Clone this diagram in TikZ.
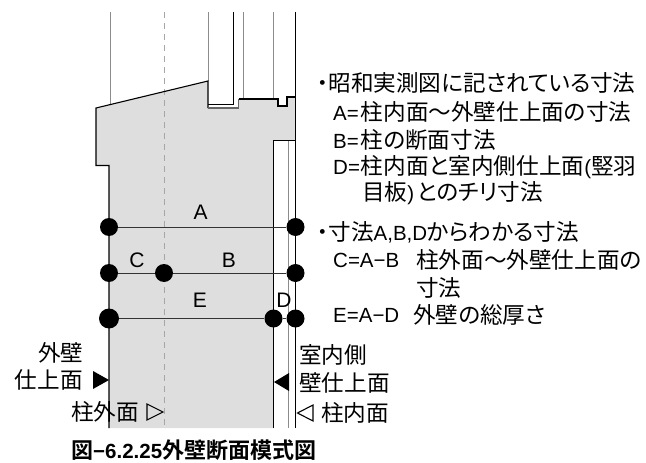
\documentclass[tikz,border=0pt]{standalone}
\usepackage{fontspec}
\setmainfont{Liberation Sans}
\newfontfamily\cjk[RawFeature=+palt,BoldFont={Noto Sans CJK JP Bold}]{Noto Sans CJK JP}
\newcommand{\J}[1]{{\cjk\fontsize{22.6}{26}\selectfont #1}}
\newcommand{\JB}[1]{{\cjk\bfseries\fontsize{22}{26}\selectfont #1}}
\begin{document}
\begin{tikzpicture}[x=1pt,y=-1pt,
  dotmark/.style={circle,fill=black,inner sep=0pt,minimum size=18pt},
  dotbig/.style={circle,fill=black,inner sep=0pt,minimum size=20pt},
  lab/.style={anchor=west,inner sep=0pt,font=\fontsize{20.5}{25}\selectfont},
  letter/.style={inner sep=0pt,font=\fontsize{21}{25}\selectfont},
  graybar/.style={draw=black!45,line width=0.9pt},
  blackbar/.style={draw=black,line width=1.1pt},
  dimline/.style={draw=black!80,line width=1pt}]
\useasboundingbox (0,0) rectangle (646,463);
\fill[black!13] (96,108) -- (208,81) -- (208,108) -- (238.5,108) -- (238.5,99) -- (278,99) -- (278,106) -- (287,106) -- (287,97) -- (295.5,97) -- (295.5,140.5) -- (273.5,140.5) -- (273.5,428) -- (109,428) -- (109,165.5) -- (96,165.5) -- cycle;
% upper vertical lines
\draw[graybar] (110.5,12) -- (110.5,104);
\draw[graybar,dashed,dash pattern=on 6pt off 5pt,black!35] (164,12) -- (164,428);
\draw[graybar] (208,12) -- (208,81);
\draw[blackbar] (233.5,12) -- (233.5,104.5) -- (208,104.5);
\draw[graybar] (243,12) -- (243,99);
\draw[graybar] (273.5,12) -- (273.5,99);
\draw[graybar] (288,141) -- (288,428);
\draw[blackbar] (295.5,12) -- (295.5,428);
% outline
\draw[blackbar,line join=miter] (109,428) -- (109,165.5) -- (96,165.5) -- (96,108) -- (208,81) -- (208,108);
\draw[draw=black!60,line width=1.1pt] (208,108) -- (238.5,108) -- (238.5,99);
\draw[blackbar] (238.5,99) -- (278,99) -- (278,106) -- (287,106) -- (287,97) -- (295.5,97);
\draw[blackbar] (273.5,428) -- (273.5,140.5) -- (295.5,140.5);
% dimension rows
\node[dotmark] (a1) at (109,227) {};
\node[dotmark] (a2) at (295.5,227) {};
\node[dotmark] (b1) at (109,273) {};
\node[dotmark] (b2) at (164,273) {};
\node[dotmark] (b3) at (295.5,273) {};
\node[dotbig] (c1) at (109,318.5) {};
\node[dotmark] (c2) at (273.5,318.5) {};
\node[dotmark] (c3) at (295.5,318.5) {};
\draw[dimline] (a1) -- (a2);
\draw[dimline] (b1) -- (b2);
\draw[dimline] (b2) -- (b3);
\draw[dimline] (c1) -- (c2);
\draw[dimline] (c2) -- (c3);
\node[letter] (lA) at (200.7,212) {A};
\node[letter] (lC) at (137,260) {C};
\node[letter] (lB) at (229,260) {B};
\node[letter] (lE) at (200,300) {E};
\node[letter] (lD) at (284,300) {D};
% face markers
\fill (93,371) -- (109,380) -- (93,389) -- cycle;
\draw[line width=1.1pt,line join=miter] (147,404) -- (163,412) -- (147,420) -- cycle;
\fill (274,382) -- (289,373) -- (289,391) -- cycle;
\draw[line width=1.1pt,line join=miter] (313,405) -- (297.5,413) -- (313,421) -- cycle;
\node[lab] (t1) at (38,353) {\J{外壁}};
\node[lab,anchor=east] (t2) at (83,380) {\J{仕上面}};
\node[lab] (t3) at (71,412) {\J{柱外面}};
\node[lab] (t4) at (299,355) {\J{室内側}};
\node[lab] (t5) at (299,383) {\J{壁仕上面}};
\node[lab] (t6) at (321,413) {\J{柱内面}};
% explanatory text
\node[lab] (n1) at (317,83) {\J{・昭和実測図に記されている寸法}};
\node[lab] (n2) at (333,112) {A=\kern2pt\J{柱内面～外壁仕上面の寸法}};
\node[lab] (n3) at (333,140) {B=\kern2pt\J{柱の断面寸法}};
\node[lab] (n4) at (333,167) {D=\kern1pt\J{柱内面と室内側仕上面}(\J{竪羽}};
\node[lab] (n5) at (362,193) {\J{目板})\kern3pt\J{とのチリ寸法}};
\node[lab] (n6) at (317,232) {\J{・寸法}A,B,D\J{からわかる寸法}};
\node[lab] (n7) at (333,260) {C=A−B};
\node[lab] (n8) at (416,260) {\J{柱外面～外壁仕上面の}};
\node[lab] (n9) at (416,288) {\J{寸法}};
\node[lab] (n10) at (333,315) {E=A−D};
\node[lab] (n11) at (413,315) {\J{外壁の総厚さ}};
\node[lab] (cap) at (71,450.5) {\JB{図}\textbf{−6.2.25}\JB{外壁断面模式図}};
\end{tikzpicture}
\end{document}
